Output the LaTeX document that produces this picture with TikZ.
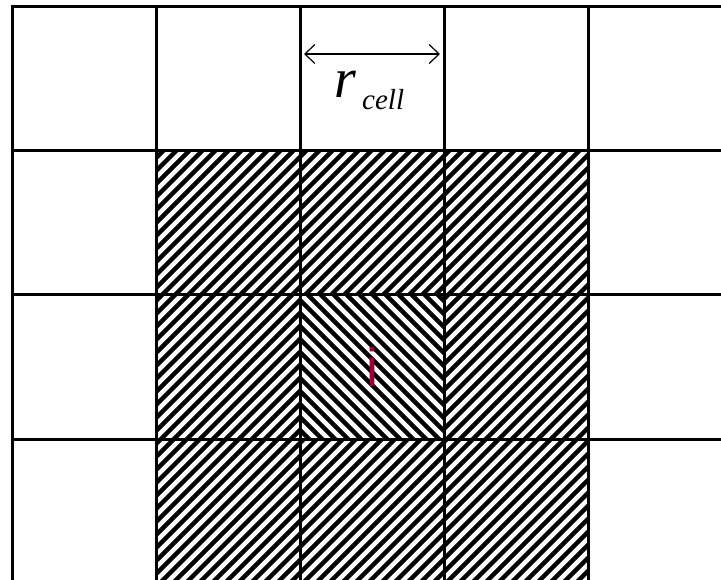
\documentclass[tikz,border=0pt]{standalone}
\usepackage{fontspec}
\setmainfont{Liberation Serif}
\newfontfamily\isans{Liberation Sans}
\usetikzlibrary{arrows.meta}
\definecolor{icol}{RGB}{153,0,51}
\tikzset{
  gridline/.style={line width=3pt, line cap=rect},
  hatchline/.style={line width=4.4pt, black},
  dimarrow/.style={line width=1.2pt, {Straight Barb[length=10pt,width=19pt]}-{Straight Barb[length=10pt,width=19pt]}},
  lbl/.style={inner sep=0pt, anchor=base west}
}
\begin{document}
\begin{tikzpicture}[x=1pt,y=-1pt]
\useasboundingbox (0,0) rectangle (721,580);
\fill[white] (0,0) rectangle (721,580);
% hatched 3x3 block
\begin{scope}
  \clip (156,151) rectangle (588,580);
  \foreach \c in {-455,-442,...,600} {
    \draw[hatchline] (\c,600) -- ++(600,-600);
  }
\end{scope}
% centre cell
\begin{scope}
  \clip (300,295) rectangle (444,439);
  \fill[white] (300,295) rectangle (444,439);
  \foreach \c in {-312,-299,...,600} {
    \draw[hatchline] (\c,0) -- ++(600,600);
  }
\end{scope}
% grid
\foreach \x in {12,156,300,444,588} {
  \draw[gridline] (\x,7) -- (\x,585);
}
\foreach \y in {7,151,295,439} {
  \draw[gridline] (12,\y) -- (725,\y);
}
% dimension arrow
\coordinate (al) at (304,54);
\coordinate (ar) at (440,54);
\draw[dimarrow] (al) -- (ar);
\node[lbl] (r) at (334,98) {\fontsize{56}{66}\selectfont\itshape r};
\node[lbl] (cell) at (362,110) {\fontsize{29}{34}\selectfont\itshape cell};
% label i
\node[inner sep=0pt, anchor=base, text=icol] (i) at (372,387) {\isans\fontsize{54}{64}\selectfont i};
\end{tikzpicture}
\end{document}
